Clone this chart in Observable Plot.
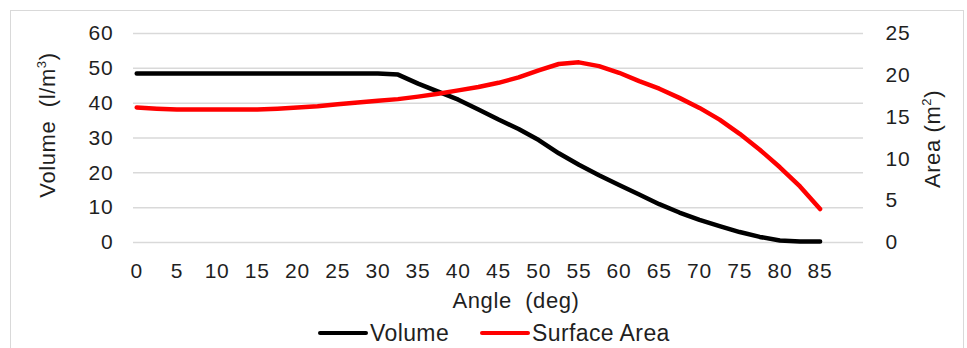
<!DOCTYPE html>
<html>
<head>
<meta charset="utf-8">
<script src="https://cdn.jsdelivr.net/npm/d3@7"></script>
<script src="https://cdn.jsdelivr.net/npm/@observablehq/plot@0.6"></script>
<style>
  html, body { margin: 0; padding: 0; background: #fff; }
  #wrap { position: relative; width: 967px; height: 348px; overflow: hidden; font-family: "Liberation Sans", Arial, sans-serif; color: #1f1f1f; }
  #frame { position: absolute; left: 10px; top: 10px; width: 954px; height: 400px; border: 1.5px solid #d9d9d9; box-sizing: border-box; }
  #chart { position: absolute; left: 0; top: 0; }
  #chart svg text { letter-spacing: 0.8px; }
  .lbl { position: absolute; font-size: 22px; letter-spacing: 0.6px; white-space: nowrap; line-height: 1; }
  .lbl sup { font-size: 13px; vertical-align: 9px; line-height: 0; }
  .leg { position: absolute; top: 322px; font-size: 23px; letter-spacing: 0.4px; line-height: 22px; white-space: nowrap; display: flex; align-items: center; }
  .sw { display: inline-block; width: 50px; height: 4.5px; border-radius: 2px; margin-right: 2px; }
</style>
</head>
<body>
<div id="wrap">
  <div id="frame"></div>
  <div id="chart"></div>
  <div class="lbl" id="ylab" style="left:48px; top:125px; transform: translate(-50%,-50%) rotate(-90deg);">Volume&nbsp;&nbsp;(l/m<sup>3</sup>)</div>
  <div class="lbl" id="y2lab" style="left:933px; top:139px; transform: translate(-50%,-50%) rotate(-90deg);">Area (m<sup>2</sup>)</div>
  <div class="lbl" id="xlab" style="left:516px; top:301px; transform: translate(-50%,-50%);">Angle&nbsp;&nbsp;(deg)</div>
  <div class="leg" style="left:318px;"><span class="sw" style="background:#000"></span>Volume</div>
  <div class="leg" style="left:480px;"><span class="sw" style="background:#ff0000"></span>Surface Area</div>
</div>
<script>
// Angle (deg)
const angles = [0, 2.5, 5, 7.5, 10, 12.5, 15, 17.5, 20, 22.5, 25, 27.5, 30, 32.5, 35, 37.5, 40, 42.5, 45, 47.5, 50, 52.5, 55, 57.5, 60, 62.5, 65, 67.5, 70, 72.5, 75, 77.5, 80, 82.5, 85];
// Volume (l/m3)
const volume = [48.5, 48.5, 48.5, 48.5, 48.5, 48.5, 48.5, 48.5, 48.5, 48.5, 48.5, 48.5, 48.5, 48.2, 45.6, 43.3, 41.0, 38.2, 35.3, 32.6, 29.4, 25.6, 22.3, 19.3, 16.5, 13.8, 11.0, 8.6, 6.5, 4.7, 3.0, 1.6, 0.6, 0.3, 0.3];
// Surface Area (m2)
const area = [16.15, 16.0, 15.9, 15.9, 15.9, 15.9, 15.9, 16.0, 16.15, 16.3, 16.55, 16.75, 16.95, 17.15, 17.45, 17.8, 18.2, 18.6, 19.1, 19.75, 20.6, 21.35, 21.55, 21.1, 20.3, 19.3, 18.4, 17.3, 16.1, 14.7, 13.0, 11.1, 9.0, 6.7, 4.0];

const xTicks = [0, 5, 10, 15, 20, 25, 30, 35, 40, 45, 50, 55, 60, 65, 70, 75, 80, 85];
const volumeTicks = [0, 10, 20, 30, 40, 50, 60];
const areaTicks = [0, 5, 10, 15, 20, 25];

const areaMax = 25, volumeMax = 60;
const k = volumeMax / areaMax; // maps area onto the volume scale

const data = angles.map((a, i) => ({angle: a, volume: volume[i], area: area[i]}));

const chart = Plot.plot({
  width: 967,
  height: 348,
  marginLeft: 133,
  marginRight: 104,
  marginTop: 33,
  marginBottom: 106,
  x: {domain: [-0.4, 90.4]},
  y: {domain: [0, volumeMax]},
  style: {fontFamily: "'Liberation Sans', Arial, sans-serif", fontSize: "21px", color: "#1f1f1f", background: "transparent", overflow: "visible"},
  marks: [
    Plot.gridY(volumeTicks, {stroke: "#d9d9d9", strokeOpacity: 1, strokeWidth: 1.5}),
    Plot.axisY({ticks: volumeTicks, anchor: "left", tickSize: 0, tickPadding: 20, label: null}),
    Plot.axisY({ticks: areaTicks.map(a => a * k), anchor: "right", tickSize: 0, tickPadding: 22, label: null,
                tickFormat: d => String(Math.round(d / k))}),
    Plot.axisX({ticks: xTicks, anchor: "bottom", tickSize: 0, tickPadding: 21, label: null}),
    Plot.line(data, {x: "angle", y: "volume", stroke: "#000000", strokeWidth: 4.5}),
    Plot.line(data, {x: "angle", y: d => d.area * k, stroke: "#ff0000", strokeWidth: 4.5})
  ]
});
document.getElementById("chart").appendChild(chart);
</script>
</body>
</html>
